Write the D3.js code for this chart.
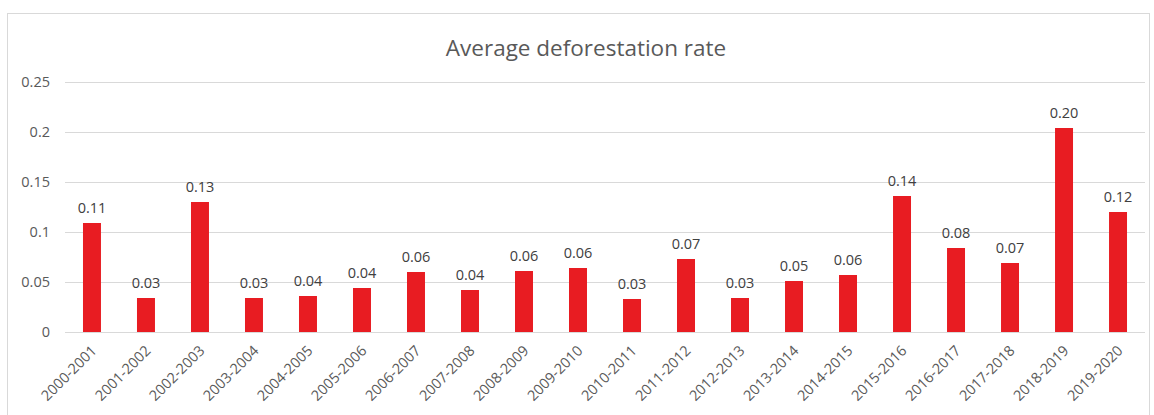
<!DOCTYPE html>
<html>
<head>
<meta charset="utf-8">
<script src="https://cdn.jsdelivr.net/npm/d3@7"></script>
<style>
  html, body { margin: 0; padding: 0; background: #ffffff; }
  svg { display: block; }
  text { font-family: "Open Sans", Lato, sans-serif; }
</style>
</head>
<body>
<script>
// Deforestation rate per period
const periods = ["2000-2001","2001-2002","2002-2003","2003-2004","2004-2005",
  "2005-2006","2006-2007","2007-2008","2008-2009","2009-2010","2010-2011",
  "2011-2012","2012-2013","2013-2014","2014-2015","2015-2016","2016-2017",
  "2017-2018","2018-2019","2019-2020"];
const rates = [0.109, 0.034, 0.130, 0.034, 0.036, 0.044, 0.060, 0.042, 0.061,
  0.064, 0.033, 0.073, 0.034, 0.051, 0.057, 0.136, 0.084, 0.069, 0.204, 0.120];
const yTicks = [0, 0.05, 0.1, 0.15, 0.2, 0.25];
const title = "Average deforestation rate";

const W = 1154, H = 415;
const margin = { left: 65, right: 9, top: 82, bottom: 83 };

const svg = d3.select("body").append("svg").attr("width", W).attr("height", H);

// chart frame
svg.append("rect")
  .attr("x", 7.5).attr("y", 13.5).attr("width", W - 12).attr("height", H)
  .attr("fill", "#ffffff").attr("stroke", "#d9d9d9").attr("stroke-width", 1);

const x = d3.scaleBand().domain(periods)
  .range([margin.left, W - margin.right]).paddingInner(0.667).paddingOuter(0.333);
const y = d3.scaleLinear().domain([0, 0.25]).range([H - margin.bottom, margin.top]);

// gridlines + y labels
const yAxis = d3.axisLeft(y).tickValues(yTicks)
  .tickSize(-(W - margin.left - margin.right))
  .tickFormat(d => d === 0 ? "0" : String(d));
const gy = svg.append("g").attr("transform", `translate(${margin.left},0)`).call(yAxis);
gy.select(".domain").remove();
gy.selectAll(".tick line").attr("stroke", "#d9d9d9").attr("stroke-width", 1);
gy.selectAll(".tick text").attr("x", -15).attr("fill", "#595959")
  .style("font-size", "14.5px");

// bars
svg.append("g").selectAll("rect").data(rates).join("rect")
  .attr("x", (d, i) => x(periods[i]))
  .attr("y", d => y(d))
  .attr("width", x.bandwidth())
  .attr("height", d => y(0) - y(d))
  .attr("fill", "#e81c22");

// value labels
svg.append("g").selectAll("text").data(rates).join("text")
  .attr("x", (d, i) => x(periods[i]) + x.bandwidth() / 2)
  .attr("y", d => y(d) - 10)
  .attr("text-anchor", "middle")
  .attr("fill", "#404040")
  .style("font-size", "14.5px")
  .text(d => d.toFixed(2));

// x labels
const xAxis = d3.axisBottom(x).tickSize(0);
const gx = svg.append("g").attr("transform", `translate(0,${y(0)})`).call(xAxis);
gx.select(".domain").remove();
gx.selectAll(".tick text")
  .attr("fill", "#595959")
  .style("font-size", "14.5px")
  .attr("text-anchor", "end")
  .attr("dy", "0.35em")
  .attr("transform", "translate(2,16) rotate(-45)")
  .attr("y", 0).attr("x", 0);

// title
svg.append("text")
  .attr("x", 586).attr("y", 56)
  .attr("text-anchor", "middle")
  .attr("fill", "#595959")
  .style("font-size", "22.5px")
  .text(title);
</script>
</body>
</html>
